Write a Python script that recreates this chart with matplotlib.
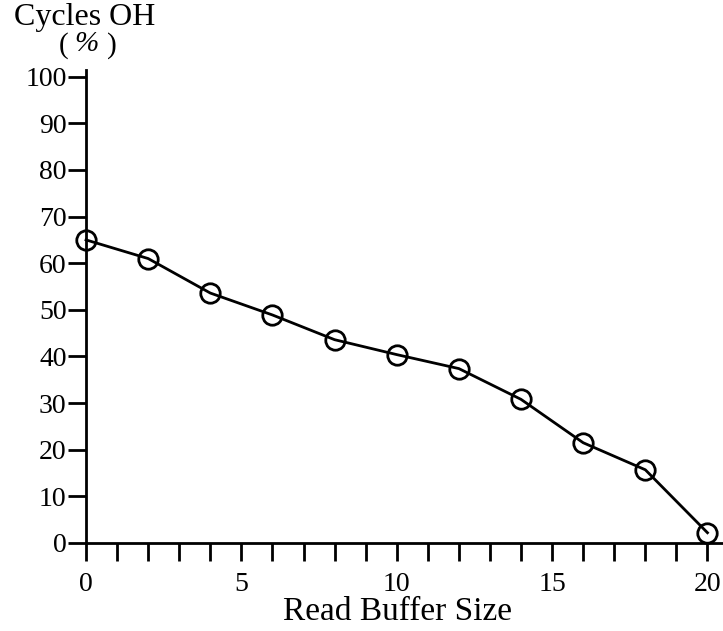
import numpy as np
import matplotlib.pyplot as plt
from matplotlib.ticker import MultipleLocator

plt.rcParams['font.family'] = ['Liberation Serif', 'DejaVu Serif']

buffer_size = [0, 2, 4, 6, 8, 10, 12, 14, 16, 18, 20]
cycles_oh = [65, 61, 53.6, 48.9, 43.6, 40.4, 37.4, 30.8, 21.5, 15.7, 2.2]
x_major = [0, 5, 10, 15, 20]
y_major = [0, 10, 20, 30, 40, 50, 60, 70, 80, 90, 100]

fig = plt.figure(figsize=(7.23, 6.31), dpi=100)
ax = fig.add_axes([0.119, 0.1395, 0.881, 0.75])

ax.plot(buffer_size, cycles_oh, color='black', linewidth=2,
        marker='o', markersize=14, markerfacecolor='none',
        markeredgecolor='black', markeredgewidth=2, clip_on=False)

ax.set_xlim(0, 20.5)
ax.set_ylim(0, 101.5)
ax.set_xticks(x_major)
ax.xaxis.set_minor_locator(MultipleLocator(1))
ax.set_yticks(y_major)

for s in ['top', 'right']:
    ax.spines[s].set_visible(False)
for s in ['left', 'bottom']:
    ax.spines[s].set_linewidth(2)

ax.tick_params(axis='both', which='both', direction='out', length=13,
               width=2, labelsize=20)
ax.tick_params(axis='x', which='major', pad=8)
ax.tick_params(axis='y', which='major', pad=1)

# y-axis title stacked above the axis
fig.text(0.02, 0.972, 'Cycles OH', fontsize=23, va='center', ha='left')
fig.text(0.088, 0.928, '(', fontsize=21, va='center', ha='center')
fig.text(0.119, 0.931, '%', fontsize=21, va='center', ha='center', style='italic')
fig.text(0.155, 0.928, ')', fontsize=21, va='center', ha='center')
fig.text(0.55, 0.03, 'Read Buffer Size', fontsize=24, va='center', ha='center')

fig.savefig('out.png', dpi=100)
